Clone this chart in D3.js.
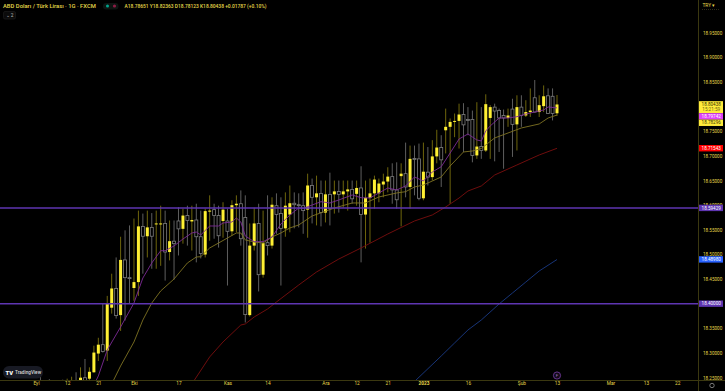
<!DOCTYPE html>
<html>
<head>
<meta charset="utf-8">
<script src="https://cdn.jsdelivr.net/npm/d3@7/dist/d3.min.js"></script>
<style>
html, body { margin: 0; padding: 0; background: #000; overflow: hidden; }
text { font-family: Roboto, sans-serif; }
</style>
</head>
<body>
<div id="chart"></div>
<script>
// daily candles, bar 0 = 1 Eyl, first one drawn is bar 1
var firstBar = 1;
var opens = [18.236,18.211,18.236,18.223,18.234,18.236,18.230,18.234,18.242,18.242,
	18.250,18.248,18.261,18.299,18.317,18.305,18.392,18.431,18.377,18.489,
	18.453,18.432,18.444,18.557,18.537,18.555,18.562,18.562,18.563,18.505,
	18.527,18.568,18.552,18.579,18.567,18.570,18.536,18.500,18.587,18.591,
	18.579,18.568,18.568,18.547,18.600,18.603,18.575,18.377,18.518,18.563,
	18.459,18.524,18.518,18.599,18.583,18.553,18.581,18.604,18.601,18.599,
	18.591,18.640,18.616,18.624,18.585,18.622,18.622,18.628,18.622,18.628,
	18.632,18.623,18.635,18.581,18.615,18.624,18.624,18.642,18.648,18.658,
	18.631,18.659,18.664,18.637,18.695,18.694,18.614,18.667,18.657,18.699,
	18.717,18.752,18.759,18.769,18.771,18.784,18.774,18.774,18.701,18.719,
	18.711,18.777,18.799,18.792,18.782,18.777,18.795,18.764,18.799,18.782,
	18.789,18.818,18.789,18.801,18.822,18.821,18.78651];
var highs = [18.254,18.234,18.247,18.238,18.242,18.246,18.248,18.252,18.261,18.271,
	18.288,18.271,18.315,18.331,18.400,18.416,18.461,18.494,18.536,18.549,
	18.559,18.573,18.589,18.583,18.589,18.584,18.589,18.599,18.589,18.569,
	18.569,18.596,18.593,18.599,18.599,18.603,18.589,18.593,18.620,18.603,
	18.599,18.606,18.593,18.610,18.620,18.630,18.620,18.563,18.595,18.603,
	18.589,18.620,18.616,18.624,18.616,18.626,18.640,18.626,18.624,18.626,
	18.664,18.654,18.660,18.650,18.650,18.666,18.650,18.650,18.650,18.650,
	18.650,18.650,18.679,18.650,18.654,18.660,18.654,18.664,18.677,18.685,
	18.687,18.685,18.727,18.721,18.721,18.725,18.727,18.718,18.732,18.753,
	18.742,18.796,18.776,18.786,18.806,18.807,18.799,18.792,18.809,18.799,
	18.825,18.803,18.806,18.796,18.794,18.796,18.816,18.823,18.823,18.813,
	18.837,18.854,18.823,18.843,18.837,18.837,18.82363];
var lows = [18.219,18.203,18.219,18.215,18.215,18.219,18.223,18.228,18.228,18.234,
	18.236,18.244,18.260,18.284,18.301,18.284,18.380,18.370,18.345,18.366,
	18.400,18.406,18.416,18.461,18.494,18.471,18.471,18.477,18.447,18.488,
	18.449,18.498,18.522,18.518,18.508,18.484,18.492,18.494,18.528,18.532,
	18.514,18.534,18.437,18.538,18.545,18.518,18.362,18.374,18.508,18.425,
	18.453,18.498,18.512,18.542,18.437,18.536,18.545,18.553,18.555,18.542,
	18.534,18.563,18.559,18.557,18.565,18.559,18.583,18.585,18.595,18.589,
	18.603,18.599,18.484,18.512,18.524,18.593,18.606,18.616,18.626,18.603,
	18.593,18.557,18.616,18.593,18.620,18.610,18.610,18.640,18.650,18.685,
	18.637,18.705,18.603,18.738,18.715,18.708,18.742,18.687,18.694,18.694,
	18.708,18.694,18.689,18.708,18.674,18.759,18.698,18.711,18.759,18.779,
	18.779,18.788,18.779,18.789,18.785,18.772,18.78123];
var closes = [18.228,18.219,18.228,18.232,18.223,18.228,18.238,18.242,18.234,18.250,
	18.244,18.262,18.301,18.317,18.303,18.400,18.431,18.376,18.489,18.453,
	18.452,18.444,18.557,18.537,18.555,18.537,18.563,18.563,18.505,18.527,
	18.522,18.552,18.579,18.569,18.570,18.536,18.502,18.588,18.589,18.579,
	18.538,18.591,18.547,18.600,18.603,18.532,18.378,18.518,18.563,18.459,
	18.523,18.518,18.601,18.581,18.553,18.599,18.604,18.601,18.599,18.589,
	18.640,18.616,18.624,18.585,18.622,18.593,18.628,18.622,18.628,18.632,
	18.613,18.635,18.581,18.615,18.624,18.652,18.644,18.648,18.658,18.631,
	18.611,18.664,18.637,18.694,18.694,18.614,18.668,18.657,18.699,18.717,
	18.692,18.759,18.769,18.771,18.784,18.763,18.773,18.701,18.719,18.711,
	18.805,18.799,18.791,18.777,18.777,18.782,18.764,18.799,18.782,18.789,
	18.792,18.789,18.803,18.821,18.786,18.786,18.80438];

// moving averages, read at the bars listed
var purpleBars = [13,14,16,19,22,24,26,28,29,31,33,35,36,37,39,41,42,44,45,46,47,49,51,53,55,57,59,60,62,64,66,68,71,73,75,77,79,81,83,85,87,89,91,93,95,97,99,100,101,102,104,106,108,110,112,114,115,117];
var purpleVals = [18.2353,18.2535,18.3063,18.3529,18.4016,18.4523,18.4828,18.5077,18.5077,18.5173,18.5314,18.5436,18.5456,18.5396,18.5578,18.5578,18.5639,18.5659,18.5741,18.5659,18.5375,18.5260,18.5260,18.5355,18.5619,18.5801,18.5943,18.5933,18.6004,18.6071,18.6045,18.6106,18.6207,18.6152,18.6146,18.6248,18.6349,18.6309,18.6390,18.6573,18.6491,18.6674,18.6781,18.7059,18.7343,18.7445,18.7323,18.7303,18.7506,18.7607,18.7769,18.7769,18.7796,18.7851,18.7891,18.7932,18.7993,18.79742];
var khakiBars = [17,19,22,24,26,28,31,34,36,37,39,41,43,45,46,47,49,51,53,55,57,59,62,67,71,74,77,81,83,85,87,89,91,93,96,98,100,103,106,109,113,115,117];
var khakiVals = [18.2373,18.2738,18.3225,18.3671,18.4016,18.4260,18.4503,18.4828,18.4949,18.4955,18.5132,18.5233,18.5335,18.5436,18.5436,18.5294,18.5254,18.5233,18.5355,18.5436,18.5538,18.5599,18.5781,18.5943,18.6045,18.6045,18.6167,18.6248,18.6274,18.6370,18.6410,18.6491,18.6573,18.6796,18.7080,18.7100,18.7151,18.7364,18.7465,18.7567,18.7648,18.7769,18.78296];
var redBars = [35,39,42,46,47,49,52,54,59,63,68,73,79,85,89,92,95,97,100,103,108,113,117];
var redVals = [18.2373,18.2921,18.3225,18.3569,18.3590,18.3732,18.3894,18.4036,18.4381,18.4645,18.4908,18.5132,18.5416,18.5680,18.5802,18.5964,18.6146,18.6288,18.6390,18.6613,18.6816,18.7019,18.71543];
var blueBars = [85,91,94,97,100,104,107,110,113,117];
var blueVals = [18.2423,18.2940,18.3205,18.3468,18.3671,18.3996,18.4219,18.4442,18.4665,18.4898];

var levels = [18.59429, 18.40000];

var priceTicks = [18.25,18.30,18.35,18.40,18.45,18.50,18.55,18.60,18.65,18.70,18.75,18.85,18.90,18.95];
var dateTickBars = [0,7,14,22,32,43,52,65,72,79,87,97,109,117,129,137,144];
var dateTickLabels = ["Eyl","12","21","Eki","17","Kas","14","Ara","12","21","2023","16","Şub","13","Mar","13","22"];

// price tags on the axis, top to bottom
var tagValues = [18.80438, 18.79742, 18.78296, 18.71543, 18.59429, 18.48980, 18.40000];
var tagColors = ["#ffeb3b", "#e040fb", "#ffeb3b", "#ff0000", "#5e35b1", "#2962ff", "#5e35b1"];
var tagInk = ["#3a3500", "#fff", "#3a3500", "#fff", "#fff", "#fff", "#fff"];

function draw(){
	var width = 725, height = 391,
		plotRight = 698.5, plotBottom = 380;

	var yellow = "#fff033", yellowWick = "#6e650c",
		greyBorder = "#7d7d7d", greyWick = "#5e5e5e",
		axisInk = "#e6d84a", axisLine = "#3b3810";

	var svg = d3.select("#chart").append("svg")
		.attr("width", width)
		.attr("height", height)
		.style("display", "block");

	svg.append("rect").attr("width", width).attr("height", height).attr("fill", "#000");

	var x = d3.scaleLinear().domain([0, 117]).range([36, 557]);
	var y = d3.scaleLinear().domain([18.25, 18.95]).range([377.7, 32.7]);

	svg.append("defs").append("clipPath").attr("id", "plot")
		.append("rect").attr("width", plotRight).attr("height", plotBottom);

	var plot = svg.append("g").attr("clip-path", "url(#plot)");

	var bars = d3.range(opens.length).map(function(i){
		return {bar: i + firstBar, o: opens[i], h: highs[i], l: lows[i], c: closes[i]};
	});

	// wicks
	plot.append("g").selectAll("line").data(bars).join("line")
		.attr("x1", d => x(d.bar)).attr("x2", d => x(d.bar))
		.attr("y1", d => y(d.h)).attr("y2", d => y(d.l))
		.attr("stroke", d => d.c >= d.o ? yellowWick : greyWick)
		.attr("stroke-width", 1);

	// bodies
	plot.append("g").selectAll("rect").data(bars).join("rect")
		.attr("x", d => x(d.bar) - 1.5)
		.attr("width", 3)
		.attr("y", d => y(Math.max(d.o, d.c)))
		.attr("height", d => Math.max(1, Math.abs(y(d.o) - y(d.c))))
		.attr("fill", d => d.c >= d.o ? yellow : "#000")
		.attr("stroke", d => d.c >= d.o ? "none" : greyBorder)
		.attr("stroke-width", 0.8);

	var line = d3.line()
		.x(d => x(d[0]))
		.y(d => y(d[1]));

	function drawMa(barList, valList, color){
		plot.append("path")
			.attr("d", line(d3.zip(barList, valList)))
			.attr("fill", "none")
			.attr("stroke", color)
			.attr("stroke-width", 0.9);
	}
	drawMa(blueBars, blueVals, "#1a3a85");
	drawMa(redBars, redVals, "#7a0f0f");
	drawMa(khakiBars, khakiVals, "#7f7322");
	drawMa(purpleBars, purpleVals, "#7d2a96");

	// horizontal levels
	svg.append("g").selectAll("line").data(levels).join("line")
		.attr("x1", 0).attr("x2", plotRight)
		.attr("y1", d => y(d)).attr("y2", d => y(d))
		.attr("stroke", "#5e35b1")
		.attr("stroke-width", 1.6);

	// frame
	svg.append("line").attr("x1", plotRight).attr("x2", plotRight).attr("y1", 0).attr("y2", height)
		.attr("stroke", axisLine);
	svg.append("line").attr("x1", 0).attr("x2", width).attr("y1", plotBottom + 0.5).attr("y2", plotBottom + 0.5)
		.attr("stroke", axisLine);

	// price axis
	var yAxis = d3.axisRight(y).tickValues(priceTicks).tickFormat(d3.format(".5f")).tickSize(0).tickPadding(0);
	var yg = svg.append("g").attr("transform", "translate(703,0)").call(yAxis);
	yg.select(".domain").remove();
	yg.selectAll("text").attr("fill", axisInk).attr("font-size", 4.6).attr("font-family", "Roboto, sans-serif");

	// date axis
	var xAxis = d3.axisBottom(x).tickValues(dateTickBars)
		.tickFormat((d, i) => dateTickLabels[i]).tickSize(0).tickPadding(0);
	var xg = svg.append("g").attr("transform", "translate(0,382)").call(xAxis);
	xg.select(".domain").remove();
	xg.selectAll("text").attr("fill", axisInk).attr("font-size", 4.8).attr("font-family", "Roboto, sans-serif")
		.attr("font-weight", (d, i) => (dateTickLabels[i] === "2023" ? "bold" : "normal"));

	// price tags, pushed down when they would overlap
	var bottom = 0;
	tagValues.forEach(function(v, i){
		var tall = i === 0,
			boxH = tall ? 12 : 6.4,
			top = Math.max(y(v) - 3.3, bottom);
		bottom = top + boxH;
		svg.append("rect")
			.attr("x", 699).attr("y", top).attr("width", 24).attr("height", boxH)
			.attr("fill", tagColors[i]);
		svg.append("text")
			.attr("x", 711.2).attr("y", top + 4.9)
			.attr("text-anchor", "middle").attr("font-size", 4.6)
			.attr("fill", tagInk[i])
			.text(v.toFixed(5));
		if(tall){
			svg.append("text")
				.attr("x", 711.2).attr("y", top + 10.3)
				.attr("text-anchor", "middle").attr("font-size", 4.6)
				.attr("fill", "#6b6210")
				.text("15:21:59");
		}
	});

	// header
	svg.append("text").attr("x", 3).attr("y", 8)
		.attr("font-size", 5.85).attr("font-weight", 500).attr("fill", axisInk)
		.text("ABD Doları / Türk Lirası · 1G · FXCM");

	svg.append("rect").attr("x", 103).attr("y", 3).attr("width", 15.5).attr("height", 6.5).attr("rx", 3.2)
		.attr("fill", "#0d1512");
	svg.append("circle").attr("cx", 107.5).attr("cy", 6).attr("r", 1.5).attr("fill", "#00a58e");
	svg.append("circle").attr("cx", 114.5).attr("cy", 6).attr("r", 1.6).attr("fill", "#8c1c45");

	svg.append("text").attr("x", 124.5).attr("y", 8)
		.attr("font-size", 4.9).attr("font-weight", 500).attr("fill", axisInk)
		.text("A18.78651 Y18.82363 D18.78123 K18.80438 +0.01787 (+0.10%)");

	// collapsed indicators button
	svg.append("rect").attr("x", 3.5).attr("y", 11.5).attr("width", 12).attr("height", 7.5).attr("rx", 1.5)
		.attr("fill", "#0b0b0b").attr("stroke", "#1c1c1c").attr("stroke-width", 0.7);
	svg.append("text").attr("x", 9.5).attr("y", 17)
		.attr("text-anchor", "middle").attr("font-size", 4.8).attr("fill", "#b8b8b8")
		.text("⌄ 2");

	// currency selector
	svg.append("text").attr("x", 702.5).attr("y", 6.8)
		.attr("font-size", 4.8).attr("fill", axisInk)
		.text("TRY ▾");
	svg.append("line").attr("x1", 702).attr("x2", 720).attr("y1", 9.5).attr("y2", 9.5)
		.attr("stroke", "#5a5730").attr("stroke-width", 0.5).attr("stroke-dasharray", "1 1");

	// TradingView badge
	svg.append("rect").attr("x", 3).attr("y", 366).attr("width", 40).attr("height", 12.5).attr("rx", 6)
		.attr("fill", "#181a24");
	svg.append("text").attr("x", 5.5).attr("y", 374.6)
		.attr("font-size", 5.8).attr("font-weight", 900).attr("fill", "#fff")
		.text("TV");
	svg.append("text").attr("x", 15).attr("y", 374.2)
		.attr("font-size", 4.7).attr("font-weight", 500).attr("fill", "#d8d8d8")
		.text("TradingView");

	// earnings marker on the last bar
	svg.append("circle").attr("cx", x(117)).attr("cy", 375.5).attr("r", 3.6)
		.attr("fill", "#120a18").attr("stroke", "#7b3fa8").attr("stroke-width", 0.8);
	svg.append("text").attr("x", x(117)).attr("y", 377.2)
		.attr("text-anchor", "middle").attr("font-size", 4.4).attr("fill", "#a070c0")
		.text("F");

	// settings gear
	svg.append("circle").attr("cx", 712).attr("cy", 385.5).attr("r", 2.2)
		.attr("fill", "none").attr("stroke", "#777").attr("stroke-width", 1);
}

draw();
</script>
</body>
</html>
